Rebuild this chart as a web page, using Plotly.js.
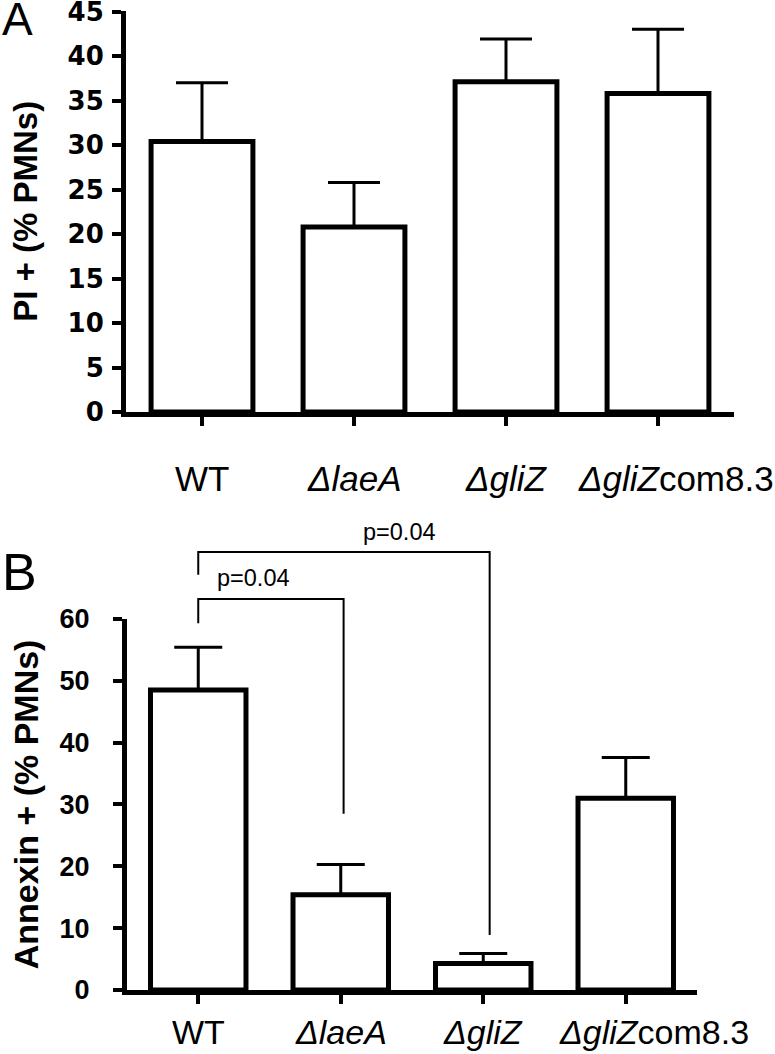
<!DOCTYPE html>
<html>
<head>
<meta charset="utf-8">
<script src="https://cdn.plot.ly/plotly-3.0.1.min.js"></script>
<style>html,body{margin:0;padding:0;background:#fff}#chart{width:775px;height:1054px}</style>
</head>
<body>
<div id="chart"></div>
<script>
// ---------- data ----------
const categories = ['WT', 'ΔlaeA', 'ΔgliZ', 'ΔgliZcom8.3'];
const tickLabels = ['WT', '<i>ΔlaeA</i>', '<i>ΔgliZ</i>', '<i>ΔgliZ</i>com8.3'];
const piValues = [30.4, 20.8, 37.1, 35.8];          // panel A: PI+ (% PMNs)
const piErrors = [6.6, 5.0, 4.8, 7.2];              // panel A: upper error
const piTicks = [0, 5, 10, 15, 20, 25, 30, 35, 40, 45];
const annexinValues = [48.5, 15.4, 4.3, 31.0];      // panel B: Annexin+ (% PMNs)
const annexinErrors = [6.9, 4.9, 1.6, 6.6];         // panel B: upper error
const annexinTicks = [0, 10, 20, 30, 40, 50, 60];
const comparisons = [
  {from: 0, to: 1, label: 'p=0.04'},
  {from: 0, to: 2, label: 'p=0.04'}
];

// ---------- layout helpers (positions / styles) ----------
const W = 775, H = 1054;
const px = v => v / W, py = v => 1 - v / H;
const font = 'Liberation Sans, Arial, Helvetica, sans-serif';
const xIdx = categories.map((c, i) => i);

const yMaxA = 45.1;
const domA = {x: [px(126), px(734)], y: [py(412), py(412 - yMaxA * (400.5 / 45))]};
const domB = {x: [px(127), px(697)], y: [py(990), py(618.8)]};
const yMaxB = 60;
const bracketTopPx = 492; // extra room above panel B for brackets
const yRangeB3 = yMaxB * (990 - bracketTopPx) / (990 - 618.8);

// bracket geometry (data units of panel B)
const bracketStyle = [
  {top: 63.2, leftEnd: 59.3, rightEnd: 28.5, rightNudge: 0.02, textX: 0.385, textY: 66.6},
  {top: 70.8, leftEnd: 67.1, rightEnd: 8.9,  rightNudge: 0.045, textX: 1.415, textY: 74.0}
];

const bx = [], by = [];
comparisons.forEach((c, k) => {
  const s = bracketStyle[k];
  const xr = c.to + s.rightNudge;
  bx.push(c.from, c.from, xr, xr, null);
  by.push(s.leftEnd, s.top, s.top, s.rightEnd, null);
});

const zeros = categories.map(() => 0);
const barStyle = {color: '#ffffff', line: {color: '#000000', width: 5}};

const traces = [
  {type: 'bar', x: xIdx, y: piValues, xaxis: 'x', yaxis: 'y', marker: barStyle,
   error_y: {type: 'data', symmetric: false, array: piErrors, arrayminus: zeros,
             color: '#000', thickness: 3, width: 26}, hoverinfo: 'skip'},
  {type: 'bar', x: xIdx, y: annexinValues, xaxis: 'x2', yaxis: 'y2', marker: barStyle,
   error_y: {type: 'data', symmetric: false, array: annexinErrors, arrayminus: zeros,
             color: '#000', thickness: 3, width: 24}, hoverinfo: 'skip'},
  {type: 'scatter', mode: 'lines', x: bx, y: by, xaxis: 'x2', yaxis: 'y3',
   line: {color: '#000', width: 2}, connectgaps: false, hoverinfo: 'skip'}
];

const axisCommon = {showline: true, linecolor: '#000', linewidth: 5, ticks: 'outside',
  tickcolor: '#000', tickwidth: 4, showgrid: false, zeroline: false, fixedrange: true,
  automargin: false, ticklabeloverflow: 'allow'};

const annotations = [];
tickLabels.forEach((t, i) => {
  const shiftA = i === 3 ? 18 : 0;
  const shiftB = i === 3 ? 28 : 0;
  annotations.push({text: t, x: i, xref: 'x', y: py(478), yref: 'paper', xanchor: 'center',
    yanchor: 'middle', showarrow: false, xshift: shiftA, font: {family: font, size: 35, color: '#000'}});
  annotations.push({text: t, x: i, xref: 'x2', y: py(1032), yref: 'paper', xanchor: 'center',
    yanchor: 'middle', showarrow: false, xshift: shiftB, font: {family: font, size: 34, color: '#000'}});
});
comparisons.forEach((c, k) => {
  const s = bracketStyle[k];
  annotations.push({text: c.label, x: s.textX, xref: 'x2', y: s.textY, yref: 'y3',
    xanchor: 'center', yanchor: 'middle', showarrow: false,
    font: {family: font, size: 23.5, color: '#000'}});
});
annotations.push({text: 'A', x: 0, xref: 'paper', y: py(25), yref: 'paper', xanchor: 'left',
  yanchor: 'middle', yshift: 6, showarrow: false, font: {family: font, size: 46, color: '#000'}});
annotations.push({text: 'B', x: 0, xref: 'paper', y: py(572), yref: 'paper', xanchor: 'left',
  yanchor: 'middle', showarrow: false, font: {family: font, size: 52, color: '#000'}});

const layout = {
  width: W, height: H, margin: {l: 0, r: 0, t: 0, b: 0},
  paper_bgcolor: '#fff', plot_bgcolor: 'rgba(0,0,0,0)', showlegend: false,
  bargap: 0.33, font: {family: font, color: '#000'},
  xaxis: Object.assign({}, axisCommon, {domain: domA.x, anchor: 'y', range: [-0.5, 3.5],
    tickvals: xIdx, showticklabels: false, ticklen: 9}),
  yaxis: Object.assign({}, axisCommon, {domain: domA.y, anchor: 'x', range: [0, yMaxA],
    tickmode: 'array', tickvals: piTicks, ticktext: piTicks.map(String),
    ticklen: 9, ticklabelstandoff: 3,
    tickfont: {family: 'DejaVu Sans, sans-serif', size: 26, weight: 700, color: '#000'},
    title: {text: 'PI + (% PMNs)', standoff: 22,
      font: {family: font, size: 33, weight: 700, color: '#000'}}}),
  xaxis2: Object.assign({}, axisCommon, {domain: domB.x, anchor: 'y2', range: [-0.5, 3.5],
    tickvals: xIdx, showticklabels: false, ticklen: 9}),
  yaxis2: Object.assign({}, axisCommon, {domain: domB.y, anchor: 'x2', range: [0, yMaxB],
    tickmode: 'array', tickvals: annexinTicks, ticktext: annexinTicks.map(String),
    ticklen: 9, ticklabelstandoff: 18,
    tickfont: {family: font, size: 27, weight: 700, color: '#000'},
    title: {text: 'Annexin + (% PMNs)', standoff: 12,
      font: {family: font, size: 34, weight: 700, color: '#000'}}}),
  yaxis3: {domain: [domB.y[0], py(bracketTopPx)], anchor: 'x2', range: [0, yRangeB3],
    visible: false, showgrid: false, zeroline: false, fixedrange: true},
  annotations: annotations
};

Plotly.newPlot('chart', traces, layout, {staticPlot: true, displayModeBar: false});
</script>
</body>
</html>
